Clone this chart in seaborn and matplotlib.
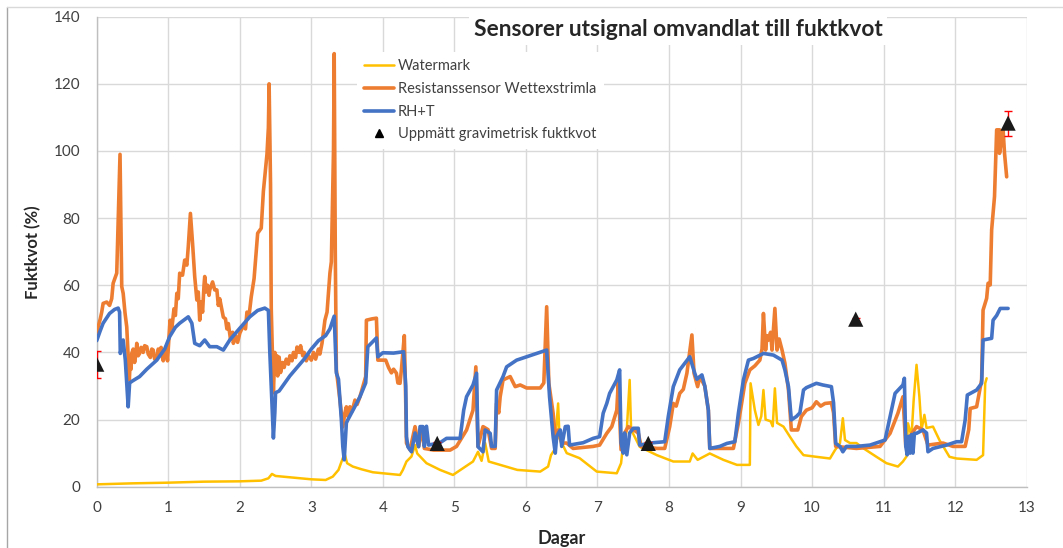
import matplotlib
matplotlib.use("Agg")
import matplotlib.pyplot as plt
from matplotlib.lines import Line2D
import seaborn as sns
import pandas as pd

# ---------------- data ----------------
x_ticks = [0, 1, 2, 3, 4, 5, 6, 7, 8, 9, 10, 11, 12, 13]
y_ticks = [0, 20, 40, 60, 80, 100, 120, 140]

watermark = [(0, 0.7), (0.5, 1.0), (1.0, 1.2), (1.5, 1.5), (2.0, 1.6), (2.3, 1.8), (2.4, 2.5), (2.45, 3.8),
             (2.5, 3.2), (2.7, 2.8), (3.0, 2.2), (3.2, 2.0), (3.3, 3.0), (3.38, 5.0), (3.44, 8.5), (3.47, 9.5),
             (3.5, 7.0), (3.58, 6.0), (3.7, 5.2), (3.86, 4.3), (4.0, 4.0), (4.24, 3.5), (4.28, 5.0), (4.33, 7.5),
             (4.40, 9.0), (4.45, 12.4), (4.48, 9.9), (4.61, 7.0), (4.8, 5.0), (4.98, 3.5), (5.26, 7.5), (5.33, 10.4),
             (5.38, 7.7), (5.43, 13.0), (5.48, 7.5), (5.64, 6.5), (5.88, 5.0), (6.2, 4.5), (6.31, 6.0), (6.35, 9.4),
             (6.4, 11.0), (6.45, 24.8), (6.47, 14.4), (6.57, 10.0), (6.75, 8.5), (6.99, 4.5), (7.27, 4.0), (7.33, 7.0),
             (7.35, 11.0), (7.41, 16.9), (7.45, 31.8), (7.47, 17.0), (7.59, 11.9), (7.83, 9.4), (8.06, 7.5),
             (8.29, 7.5), (8.33, 9.9), (8.4, 8.0), (8.57, 9.9), (8.76, 8.0), (8.95, 6.5), (9.13, 6.5), (9.14, 30.8),
             (9.2, 22.8), (9.25, 18.4), (9.29, 21.0), (9.32, 28.8), (9.35, 20.0), (9.42, 19.5), (9.45, 18.0),
             (9.48, 29.3), (9.51, 19.0), (9.6, 17.9), (9.69, 14.9), (9.78, 12.0), (9.88, 9.4), (10.06, 8.9),
             (10.25, 8.4), (10.32, 10.9), (10.39, 13.0), (10.43, 20.4), (10.46, 13.9), (10.53, 13.0), (10.62, 13.0),
             (10.72, 11.4), (10.9, 8.9), (11.04, 7.0), (11.2, 6.0), (11.27, 7.5), (11.32, 9.0), (11.34, 18.9),
             (11.39, 15.0), (11.42, 25.8), (11.46, 36.3), (11.5, 26.8), (11.53, 17.0), (11.57, 21.4), (11.6, 17.5),
             (11.69, 17.9), (11.78, 13.9), (11.92, 8.9), (12.02, 8.4), (12.3, 8.0), (12.39, 9.4), (12.42, 30.8),
             (12.44, 32.3)]

resistans = [(0, 45), (0.02, 47.6), (0.05, 50), (0.07, 52), (0.09, 54.6), (0.14, 55), (0.18, 54), (0.21, 56),
             (0.23, 60.6), (0.28, 63.6), (0.3, 79), (0.326, 99), (0.35, 59.6), (0.37, 57.6), (0.396, 51.7),
             (0.42, 47.6), (0.456, 31.8), (0.47, 38), (0.48, 35), (0.49, 39.7), (0.51, 41), (0.53, 37), (0.55, 40),
             (0.56, 42.7), (0.58, 39), (0.6, 39.7), (0.62, 41.5), (0.65, 40), (0.67, 42), (0.7, 41.7), (0.72, 39.5),
             (0.75, 38.5), (0.77, 41), (0.79, 40.7), (0.81, 38), (0.84, 38), (0.86, 41), (0.885, 39.7), (0.9, 41.5),
             (0.93, 37.5), (0.95, 40), (0.97, 41.7), (0.99, 37.5), (1.0, 41), (1.025, 49.6), (1.05, 47),
             (1.08, 53), (1.1, 51), (1.12, 57.6), (1.14, 56), (1.16, 63.6), (1.2, 63), (1.23, 67.5), (1.26, 66),
             (1.28, 71.5), (1.31, 81.4), (1.34, 72.5), (1.37, 62.6), (1.40, 55.6), (1.42, 58), (1.44, 49.6),
             (1.46, 55), (1.48, 52), (1.5, 60), (1.51, 62.6), (1.53, 58), (1.55, 60), (1.57, 57), (1.58, 58.6),
             (1.62, 61), (1.65, 58.6), (1.68, 58.6), (1.7, 54), (1.72, 56), (1.75, 52.6), (1.77, 50.5), (1.8, 50),
             (1.82, 47), (1.84, 48.6), (1.87, 44), (1.9, 46), (1.91, 42.7), (1.94, 45), (1.97, 43), (2.0, 45.7),
             (2.05, 48), (2.08, 47), (2.1, 52), (2.13, 51), (2.16, 56.5), (2.2, 62), (2.23, 70), (2.25, 75.5),
             (2.3, 77), (2.33, 88), (2.38, 99), (2.40, 107), (2.41, 120), (2.43, 90), (2.44, 53), (2.47, 28),
             (2.49, 40), (2.5, 36), (2.52, 39), (2.53, 33), (2.55, 38.6), (2.57, 34), (2.6, 37), (2.62, 35.5),
             (2.65, 38), (2.68, 36.5), (2.7, 39), (2.73, 37.5), (2.75, 40), (2.78, 38.5), (2.8, 41.6), (2.83, 40),
             (2.85, 42), (2.88, 39), (2.9, 40), (2.93, 37.5), (2.96, 39), (3.0, 37.7), (3.03, 40), (3.06, 38),
             (3.1, 41), (3.12, 39.5), (3.15, 42.8), (3.19, 49.6), (3.22, 52), (3.26, 63.6), (3.28, 67), (3.31, 100),
             (3.32, 129), (3.335, 70), (3.35, 34.8), (3.40, 25.8), (3.44, 17.8), (3.47, 22), (3.49, 23.8),
             (3.51, 21), (3.54, 23.8), (3.57, 22.5), (3.61, 25.8), (3.64, 24.5), (3.68, 26.8), (3.72, 29.8),
             (3.76, 32.8), (3.77, 49.6), (3.85, 50), (3.91, 50.2), (3.93, 37.7), (4.04, 37.7), (4.08, 35.5),
             (4.12, 33.9), (4.15, 35), (4.19, 33.8), (4.21, 30.9), (4.24, 30.8), (4.26, 35), (4.30, 45), (4.32, 25),
             (4.33, 13), (4.38, 11), (4.45, 17.9), (4.5, 12), (4.55, 17.4), (4.58, 11.4), (4.71, 10.9), (4.94, 10.9),
             (5.03, 12), (5.17, 16.9), (5.26, 22.8), (5.30, 35.7), (5.33, 12), (5.40, 17.9), (5.47, 17), (5.52, 11.4),
             (5.57, 11.4), (5.59, 24.8), (5.62, 22), (5.64, 26.8), (5.68, 31.8), (5.78, 32.8), (5.85, 29.8),
             (5.92, 30.3), (6.01, 29.4), (6.2, 29.4), (6.25, 30.9), (6.29, 53.6), (6.32, 30.8), (6.38, 21.9),
             (6.41, 14.9), (6.45, 16.9), (6.5, 13), (6.57, 13), (6.66, 11.4), (6.94, 12), (7.03, 12.4), (7.13, 15.9),
             (7.2, 17.9), (7.27, 22.8), (7.29, 30.8), (7.33, 11), (7.38, 16), (7.43, 17.9), (7.5, 17), (7.57, 16),
             (7.61, 12), (7.83, 11.4), (7.94, 11.4), (8.01, 17.9), (8.06, 24.8), (8.1, 24), (8.15, 27.8),
             (8.2, 29), (8.25, 33.8), (8.32, 45.2), (8.35, 33.8), (8.40, 29.8), (8.43, 32.8), (8.50, 30),
             (8.55, 22.8), (8.57, 11.4), (8.90, 11.4), (8.97, 18.9), (9.06, 30.8), (9.13, 34.8), (9.2, 36),
             (9.27, 37.7), (9.3, 41), (9.32, 51.6), (9.35, 40.7), (9.37, 45), (9.39, 43.7), (9.42, 46),
             (9.44, 40.7), (9.46, 47), (9.48, 53.1), (9.51, 40.7), (9.54, 44), (9.58, 40.7), (9.62, 36.8),
             (9.67, 28.8), (9.71, 16.9), (9.80, 16.9), (9.85, 20.9), (9.92, 22.8), (10.0, 23.5), (10.06, 25.3),
             (10.12, 24), (10.18, 24.8), (10.27, 25), (10.30, 22), (10.33, 12), (10.62, 11.4), (10.95, 12),
             (11.09, 15.9), (11.20, 21.9), (11.27, 26.8), (11.31, 12), (11.37, 15), (11.46, 17.9), (11.55, 16.9),
             (11.62, 12.4), (11.83, 13), (11.97, 12), (12.14, 12), (12.19, 17), (12.21, 23.3), (12.30, 23.8),
             (12.37, 31.8), (12.39, 52.6), (12.44, 56.1), (12.46, 60.6), (12.49, 60.1), (12.51, 76.5), (12.53, 81.4),
             (12.55, 86.4), (12.58, 106.3), (12.62, 106.3), (12.62, 99.3), (12.67, 106.3), (12.69, 99.3),
             (12.72, 92.3)]

rh_t = [(0, 43.5), (0.05, 46.5), (0.09, 48.7), (0.18, 51.6), (0.25, 52.8), (0.30, 53.2), (0.32, 52), (0.33, 39.7),
        (0.35, 42), (0.37, 43.7), (0.40, 37.7), (0.44, 23.8), (0.46, 30.9), (0.5, 31.5), (0.6, 32.8), (0.7, 35),
        (0.84, 37.7), (0.95, 41), (1.02, 44.7), (1.1, 47.5), (1.16, 48.7), (1.28, 50.6), (1.33, 48.7),
        (1.37, 42.7), (1.44, 42), (1.51, 43.7), (1.58, 41.7), (1.68, 41.7), (1.77, 40.7), (1.86, 43.7),
        (1.98, 46.7), (2.14, 50.6), (2.25, 52.5), (2.35, 53.2), (2.40, 52.5), (2.42, 40), (2.45, 25), (2.47, 14.5),
        (2.49, 22), (2.5, 28), (2.55, 28.5), (2.6, 30), (2.7, 33), (2.8, 35.5), (2.9, 38), (3.0, 41), (3.1, 43.5),
        (3.2, 45), (3.26, 47), (3.32, 50.8), (3.35, 33.9), (3.38, 32), (3.42, 20), (3.44, 12), (3.46, 8),
        (3.49, 19), (3.51, 19.9), (3.6, 23.5), (3.68, 26.8), (3.76, 30.9), (3.79, 41.7), (3.91, 44.3),
        (3.93, 38.7), (4.0, 39.9), (4.15, 39.8), (4.29, 40.2), (4.32, 30), (4.33, 14.9), (4.35, 11.9),
        (4.40, 10.4), (4.45, 16), (4.50, 11.9), (4.52, 17.9), (4.56, 17.9), (4.58, 12), (4.61, 18), (4.64, 12.4),
        (4.8, 13.1), (4.89, 14.4), (5.08, 14.4), (5.13, 22.8), (5.17, 26.8), (5.26, 30.3), (5.31, 33.8),
        (5.33, 11.9), (5.40, 10.4), (5.43, 16.9), (5.5, 15.9), (5.52, 12), (5.57, 12), (5.59, 28.8), (5.68, 32.8),
        (5.73, 35.7), (5.87, 37.7), (6.01, 38.7), (6.29, 40.7), (6.33, 26.8), (6.38, 14.9), (6.41, 10),
        (6.43, 15), (6.48, 16.9), (6.5, 12), (6.55, 17.9), (6.59, 18), (6.61, 12.4), (6.80, 13.1), (6.94, 14.4),
        (7.03, 14.9), (7.08, 21.9), (7.13, 24.8), (7.17, 27.8), (7.27, 31.8), (7.31, 34.8), (7.33, 13),
        (7.36, 10), (7.38, 16), (7.41, 9.5), (7.45, 16), (7.50, 17.4), (7.57, 17.4), (7.59, 12.4), (7.78, 13.1),
        (7.94, 13.4), (7.99, 20.9), (8.06, 29.8), (8.15, 34.8), (8.29, 38.7), (8.36, 33.8), (8.39, 32),
        (8.46, 33.3), (8.50, 30), (8.55, 22.8), (8.57, 11.4), (8.71, 12), (8.81, 12.9), (8.92, 13.4),
        (8.97, 21.9), (9.04, 31.8), (9.11, 37.7), (9.18, 38.2), (9.32, 39.7), (9.46, 39.2), (9.58, 37.7),
        (9.62, 34.8), (9.67, 29.8), (9.71, 19.9), (9.78, 20.9), (9.83, 22), (9.88, 28.8), (9.92, 29.5),
        (10.06, 30.8), (10.15, 30.3), (10.27, 29.8), (10.30, 25), (10.33, 12.9), (10.39, 12), (10.43, 10.4),
        (10.48, 12), (10.62, 12), (10.81, 12.4), (10.95, 13.4), (11.02, 13.9), (11.09, 20.9), (11.16, 27.8),
        (11.27, 30.3), (11.29, 32.3), (11.31, 12), (11.33, 9.5), (11.35, 15), (11.37, 10), (11.39, 15.5),
        (11.41, 10), (11.43, 15.9), (11.46, 15.9), (11.55, 16.9), (11.60, 16), (11.62, 10.4), (11.69, 11.4),
        (11.88, 12.4), (12.02, 13.4), (12.09, 13.4), (12.14, 19.9), (12.17, 27.3), (12.30, 28.8), (12.37, 30.8),
        (12.39, 43.7), (12.51, 44.2), (12.53, 49.6), (12.58, 51), (12.63, 53.1), (12.74, 53.1)]

grav_x = [0, 4.76, 7.71, 10.61, 12.74]
grav_y = [36.5, 12.9, 12.9, 49.9, 108.3]
grav_err = [4.0, 0.5, 0.5, 0.5, 3.7]

labels = ["Watermark", "Resistanssensor Wettexstrimla", "RH+T", "Uppmätt gravimetrisk fuktkvot"]
colors = ["#FFC000", "#ED7D31", "#4472C4"]

# ---------------- plot ----------------
sns.set_theme(style="white")
FONT = ["Lato", "DejaVu Sans"]
plt.rcParams["font.family"] = FONT

W, H = 1063, 548
fig = plt.figure(figsize=(W / 100, H / 100), dpi=100)
L, R, T, B = 96.7, 1026.7, 16.7, 486.7
ax = fig.add_axes([L / W, 1 - B / H, (R - L) / W, (B - T) / H])

series = [watermark, resistans, rh_t]
widths = [1.8, 2.6, 2.6]
for pts, lab, col, lw in zip(series, labels[:3], colors, widths):
    df = pd.DataFrame(pts, columns=["Dagar", "Fuktkvot"])
    sns.lineplot(data=df, x="Dagar", y="Fuktkvot", ax=ax, sort=False, estimator=None,
                 color=col, linewidth=lw, legend=False, zorder=3)

ax.errorbar(grav_x, grav_y, yerr=grav_err, fmt="none", ecolor="#FF0000", elinewidth=1.0,
            capsize=3, capthick=1.0, zorder=4)
gdf = pd.DataFrame({"Dagar": grav_x, "Fuktkvot": grav_y})
sns.scatterplot(data=gdf, x="Dagar", y="Fuktkvot", ax=ax, marker="^", s=120, color="#1a1a1a",
                edgecolor="none", zorder=5, legend=False)

ax.set_xlim(0, 13)
ax.set_ylim(0, 140)
ax.set_xticks(x_ticks)
ax.set_yticks(y_ticks)
ax.grid(True, color="#D9D9D9", linewidth=1.0)
ax.set_axisbelow(True)
for side in ["top", "right"]:
    ax.spines[side].set_visible(False)
for side in ["left", "bottom"]:
    ax.spines[side].set_color("#BFBFBF")
    ax.spines[side].set_linewidth(1.0)
ax.tick_params(axis="both", length=0, labelsize=11, colors="#404040")
ax.tick_params(axis="y", pad=12)
ax.tick_params(axis="x", pad=10)
ax.set_xlabel("Dagar", fontsize=13, fontweight="bold", color="#262626", labelpad=11)
ax.set_ylabel("Fuktkvot (%)", fontsize=12, fontweight="bold", color="#262626", labelpad=9)

ax.text(0.625, 0.972, "Sensorer utsignal omvandlat till fuktkvot", transform=ax.transAxes,
        ha="center", va="center", fontsize=16.4, fontweight="bold", color="#262626", zorder=10,
        bbox=dict(boxstyle="square,pad=0.2", facecolor="white", edgecolor="none"))

handles = [Line2D([], [], color=colors[0], lw=1.8),
           Line2D([], [], color=colors[1], lw=2.6),
           Line2D([], [], color=colors[2], lw=2.6),
           Line2D([], [], color="black", marker="^", linestyle="none", markersize=6)]
leg = ax.legend(handles, labels, loc="upper left", bbox_to_anchor=(0.28, 0.925), fontsize=10.5,
                frameon=True, facecolor="white", edgecolor="none", framealpha=1, borderaxespad=0,
                handlelength=2.0, handletextpad=0.3, labelspacing=0.6, borderpad=0.5)
for t in leg.get_texts():
    t.set_color("#404040")
leg.set_zorder(10)

# outer chart border
fig.add_artist(Line2D([7.3 / W, 7.3 / W], [0, 1 - 7.3 / H], color="#A6A6A6", lw=1.0))
fig.add_artist(Line2D([7.3 / W, 1], [1 - 7.3 / H, 1 - 7.3 / H], color="#D9D9D9", lw=1.0))

fig.savefig("out.png", dpi=100)
